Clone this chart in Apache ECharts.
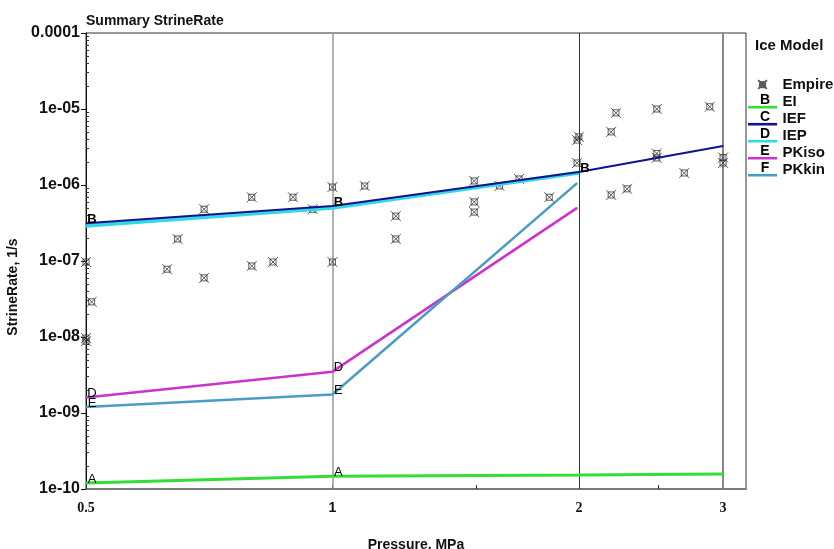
<!DOCTYPE html>
<html>
<head>
<meta charset="utf-8">
<script src="https://cdn.jsdelivr.net/npm/echarts@6/dist/echarts.min.js"></script>
<style>
html,body{margin:0;padding:0;background:#fff;}
#chart{width:834px;height:549px;}
</style>
</head>
<body>
<div id="chart"></div>
<script>
// ---- data ----
const empireX = [0.5, 0.5, 0.5, 0.508, 0.628, 0.647, 0.697, 0.697, 0.797, 0.797, 0.846, 0.895, 0.946, 1.0, 1.0,
  1.095, 1.195, 1.195, 1.49, 1.49, 1.49, 1.6, 1.69, 1.84, 2.0, 1.99, 1.99, 2.19, 2.19, 2.22, 2.29,
  2.49, 2.49, 2.49, 2.69, 2.89, 3.0, 3.0];
const empireY = [9.7e-8, 9.7e-9, 8.8e-9, 2.9e-8, 7.8e-8, 1.95e-7, 4.8e-7, 6.0e-8, 6.9e-7, 8.6e-8, 9.7e-8, 6.9e-7, 4.8e-7, 9.4e-7, 9.7e-8,
  9.7e-7, 3.9e-7, 1.95e-7, 1.13e-6, 6.0e-7, 4.4e-7, 9.7e-7, 1.2e-6, 6.9e-7, 4.3e-6, 3.9e-6, 1.95e-6, 5.0e-6, 7.4e-7, 8.9e-6, 8.9e-7,
  1.0e-5, 2.6e-6, 2.27e-6, 1.44e-6, 1.07e-5, 2.3e-6, 1.95e-6];

const pressureEI = [0.5, 1, 2, 3];
const rateEI = [1.2e-10, 1.47e-10, 1.53e-10, 1.58e-10];
const pressureIEF = [0.5, 1, 2, 3];
const rateIEF = [3.15e-7, 5.3e-7, 1.48e-6, 3.25e-6];
const pressureIEP = [0.5, 1, 2];
const rateIEP = [2.9e-7, 5.0e-7, 1.45e-6];
const pressurePKiso = [0.5, 1, 1.99];
const ratePKiso = [1.6e-9, 3.5e-9, 5.0e-7];
const pressurePKkin = [0.5, 1, 1.99];
const ratePKkin = [1.2e-9, 1.75e-9, 1.06e-6];

const xTickLabels = [0.5, 1, 2, 3];
const xTickMarks = [0.5, 1, 1.5, 2, 2.5, 3];
const xGridLines = [1, 2, 3];
const yTickLabels = [1e-10, 1e-9, 1e-8, 1e-7, 1e-6, 1e-5, 1e-4];
const yGridLines = [1e-9, 1e-8, 1e-7, 1e-6, 1e-5];
const legendLetters = ['B', 'C', 'D', 'E', 'F'];

// minor ticks 2..9 per decade
const yMinorTicks = [];
for (let e = -10; e < -4; e++) {
  for (let m = 2; m <= 9; m++) yMinorTicks.push(+(m + 'e' + e));
}

function pairs(xs, ys, labelIdx) {
  return xs.map((x, i) => ({ value: [x, ys[i]], label: { show: labelIdx.indexOf(i) >= 0 } }));
}

const FONT = '"Liberation Sans", Arial, sans-serif';
const SERIF = '"Liberation Serif", "Times New Roman", serif';

function lineSeries(name, xs, ys, color, width, letter, labelIdx, z, bold) {
  return {
    name: name, type: 'line', z: z,
    data: pairs(xs, ys, labelIdx),
    symbol: 'circle', symbolSize: 1, showSymbol: true,
    itemStyle: { color: color },
    lineStyle: { color: color, width: width },
    label: { show: false, position: 'top', distance: 0, offset: [6, 3], formatter: letter,
      color: '#000', fontFamily: FONT, fontSize: 13, fontWeight: bold ? 'bold' : 'normal' },
    emphasis: { disabled: true },
    animation: false
  };
}

const lineIcon = 'path://M0,0L0,0 M0,11h28v2.5h-28z';
const boxX = 'path://M0,0L10,10M10,0L0,10M2,2L8,2L8,8L2,8Z';
const boxXLegend = 'path://M-3,-3L-3,-3 M13,13L13,13 M0,0L10,10M10,0L0,10M2,2L8,2L8,8L2,8Z';

const markLineData = [
  { xAxis: xGridLines[0], lineStyle: { color: '#9a9a9a', width: 1.5, type: 'solid' } },
  { xAxis: xGridLines[1], lineStyle: { color: '#333', width: 1, type: 'solid' } },
  { xAxis: xGridLines[2], lineStyle: { color: '#888', width: 2, type: 'solid' } }
].concat(yGridLines.map(v => ({ yAxis: v, lineStyle: { color: '#8a8a8a', width: 1, type: 'solid' } })));

const chart = echarts.init(document.getElementById('chart'), null, { renderer: 'canvas' });

const option = {
  animation: false,
  backgroundColor: '#fff',
  title: {
    text: 'Summary StrineRate', left: 81, top: 9,
    textStyle: { fontFamily: FONT, fontSize: 14, fontWeight: 'bold', color: '#111' }
  },
  grid: { left: 86, right: 88, top: 33, bottom: 60, containLabel: false, outerBoundsMode: 'none',
    show: true, borderColor: '#333', borderWidth: 1, backgroundColor: 'transparent' },
  legend: {
    orient: 'vertical', left: 748, top: 76, itemWidth: 30, itemHeight: 14, itemGap: 0, padding: 0,
    selectedMode: false,
    textStyle: { fontFamily: FONT, fontSize: 15, fontWeight: 'bold', color: '#111', lineHeight: 17 },
    data: [
      { name: 'Empire', icon: boxXLegend },
      { name: 'EI', icon: lineIcon },
      { name: 'IEF', icon: lineIcon },
      { name: 'IEP', icon: lineIcon },
      { name: 'PKiso', icon: lineIcon },
      { name: 'PKkin', icon: lineIcon }
    ]
  },
  graphic: [
    { type: 'text', left: 755, top: 38, style: { text: 'Ice Model', font: 'bold 15px ' + FONT, fill: '#111' } }
  ].concat(legendLetters.map((l, i) => ({
    type: 'text', x: 765, y: 100 + i * 17, z: 100,
    style: { text: l, font: 'bold 14px ' + FONT, fill: '#000', align: 'center', verticalAlign: 'middle' }
  }))),
  xAxis: {
    type: 'log', logBase: 10, min: 0.5, max: 3.2,
    name: 'Pressure, MPa', nameLocation: 'middle', nameGap: 49,
    nameTextStyle: { fontFamily: FONT, fontSize: 14, fontWeight: 'bold', color: '#111' },
    axisLine: { show: true, lineStyle: { color: '#7a7a7a', width: 2 } },
    axisTick: { show: true, inside: true, length: 4, customValues: xTickMarks, lineStyle: { color: '#333' } },
    axisLabel: {
      show: true, customValues: xTickLabels, margin: 12,
      formatter: v => (Math.abs(v - 1) < 1e-9 ? '{s|1}' : '{t|' + v + '}'),
      rich: {
        s: { fontFamily: FONT, fontSize: 14, fontWeight: 'bold', color: '#111', padding: [0, 0, 6, 0] },
        t: { fontFamily: SERIF, fontSize: 14, fontWeight: 'bold', color: '#111' }
      }
    },
    splitLine: { show: false }, minorTick: { show: false }
  },
  yAxis: [
    {
      type: 'log', logBase: 10, min: 1e-10, max: 1e-4,
      name: 'StrineRate, 1/s', nameLocation: 'middle', nameGap: 50,
      nameTextStyle: { fontFamily: FONT, fontSize: 14, fontWeight: 'bold', color: '#111', padding: [0, 52, 0, 0] },
      axisLine: { show: true, lineStyle: { color: '#111', width: 1 } },
      axisTick: { show: true, inside: false, length: 5, customValues: yTickLabels, lineStyle: { color: '#111' } },
      axisLabel: {
        show: true, customValues: yTickLabels, margin: 6,
        fontFamily: FONT, fontSize: 16, fontWeight: 'bold', color: '#111',
        formatter: v => {
          const e = Math.round(Math.log10(v));
          if (e >= -4) return v.toFixed(-e);
          return '1e-' + String(-e).padStart(2, '0');
        }
      },
      splitLine: { show: false }
    },
    {
      type: 'log', logBase: 10, min: 1e-10, max: 1e-4, position: 'left',
      axisLine: { show: false },
      axisTick: { show: true, inside: true, length: 3, customValues: yMinorTicks, lineStyle: { color: '#333' } },
      axisLabel: { show: false },
      splitLine: { show: false }
    }
  ],
  series: [
    {
      name: 'Empire', type: 'scatter', z: 2,
      data: empireX.map((x, i) => [x, empireY[i]]),
      symbol: boxX, symbolSize: 10, symbolKeepAspect: true,
      itemStyle: { color: 'rgba(0,0,0,0)', borderColor: '#333', borderWidth: 1 },
      emphasis: { disabled: true },
      markLine: {
        silent: true, symbol: 'none', z: 1, animation: false,
        label: { show: false },
        data: markLineData
      }
    },
    lineSeries('EI', pressureEI, rateEI, '#33dd33', 3, 'A', [0, 1], 3, false),
    lineSeries('IEF', pressureIEF, rateIEF, '#12128f', 2, 'B', [0, 1, 2], 5, true),
    lineSeries('IEP', pressureIEP, rateIEP, '#33d8e8', 4, 'B', [], 4, false),
    lineSeries('PKiso', pressurePKiso, ratePKiso, '#cc33cc', 2.5, 'D', [0, 1], 3, false),
    lineSeries('PKkin', pressurePKkin, ratePKkin, '#4a9cc4', 2.5, 'E', [0, 1], 3, false)
  ]
};
chart.setOption(option);
</script>
</body>
</html>
